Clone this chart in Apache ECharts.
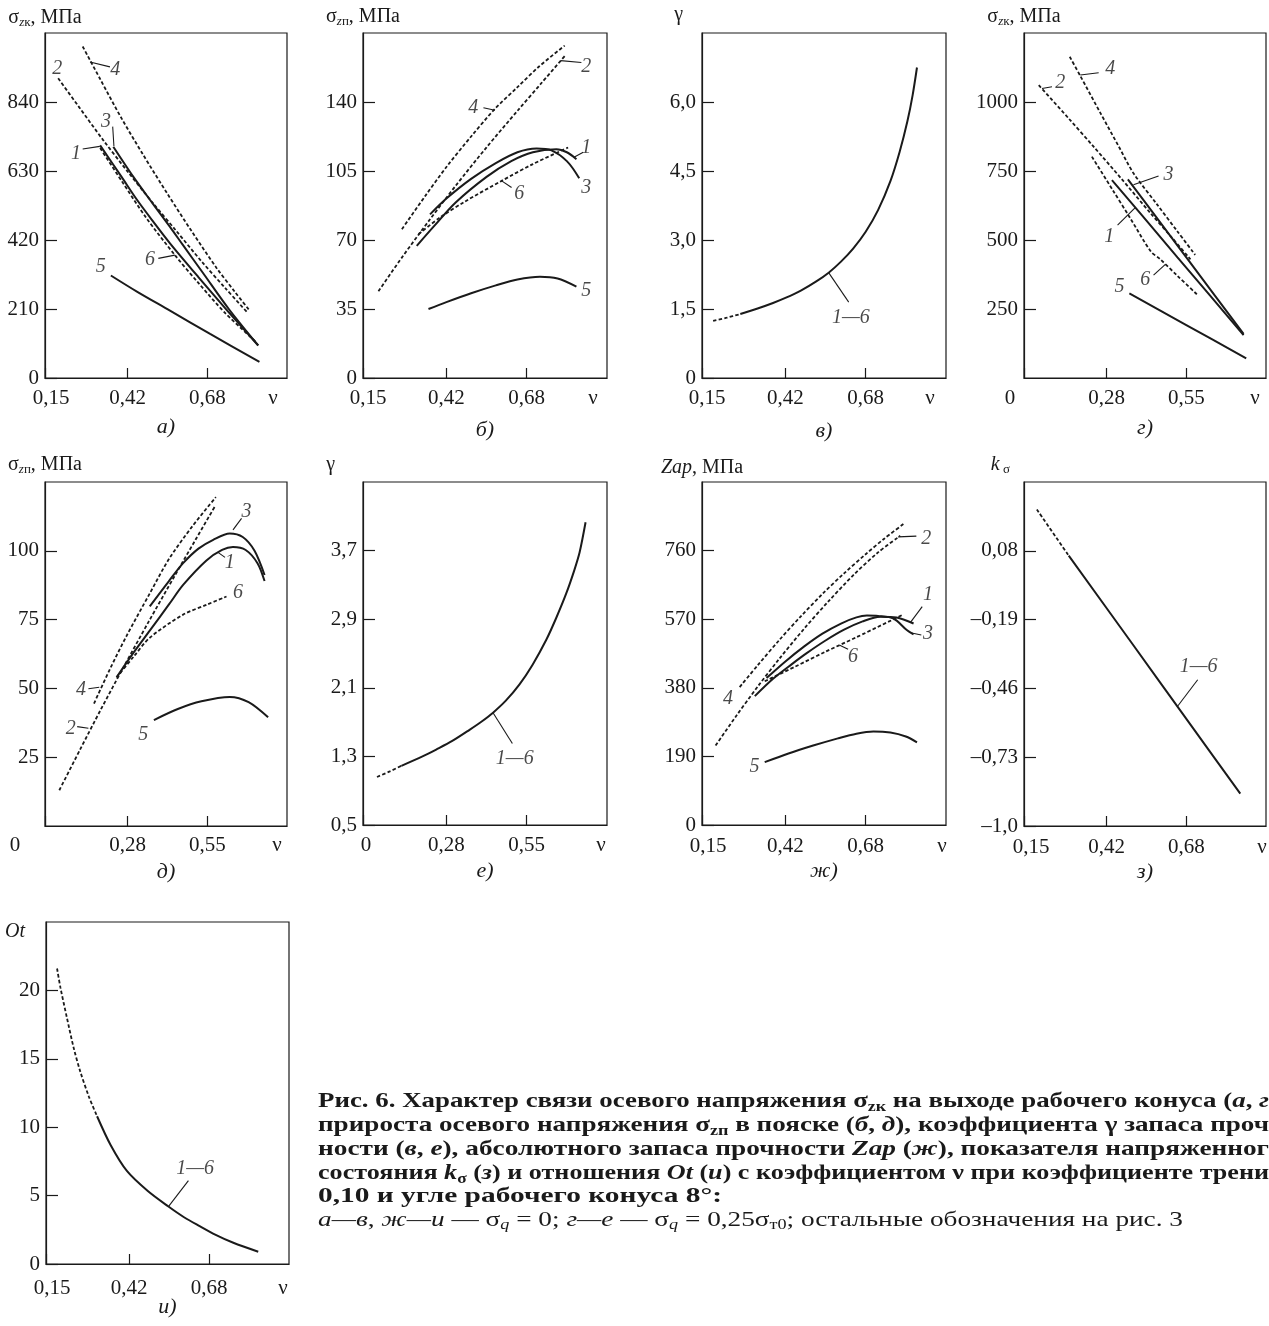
<!DOCTYPE html>
<html><head><meta charset="utf-8">
<script src="https://cdn.jsdelivr.net/npm/echarts@6/dist/echarts.min.js"></script>
<style>html,body{margin:0;padding:0;background:#fff}#c{width:1269px;height:1326px}</style>
</head><body><div id="c"></div>
<script>
// ================= DATA =================
// x tick values / labels
const xTicksA = [0.15, 0.42, 0.68];
const xLabelsA = ['0,15', '0,42', '0,68'];
const xTicksB = [0, 0.28, 0.55];
const xLabelsB = ['0', '0,28', '0,55'];

// а) sigma_zk, sigma_q = 0
const a_yTicks = [0, 210, 420, 630, 840];
const a_yLabels = ['0', '210', '420', '630', '840'];
const a_c1 = [[0.33,708],[0.40,612],[0.449,544],[0.50,480],[0.558,410],[0.65,308],[0.75,200],[0.846,99]];
const a_c2 = [[0.193,912],[0.26,826],[0.34,724],[0.42,628],[0.50,535],[0.58,446],[0.66,356],[0.74,272],[0.812,198]];
const a_c3 = [[0.373,704],[0.438,613],[0.50,533],[0.558,460],[0.60,405],[0.667,318],[0.75,210],[0.846,99]];
const a_c4 = [[0.273,1009],[0.33,910],[0.40,790],[0.47,680],[0.55,560],[0.63,445],[0.71,335],[0.77,262],[0.818,205]];
const a_c5 = [[0.365,312],[0.45,263],[0.558,205],[0.689,134],[0.85,49]];
const a_c6 = [[0.33,700],[0.40,600],[0.48,488],[0.574,374],[0.65,290],[0.74,196],[0.836,112]];
const a_labels = [['4',0.379,937],['2',0.19,942],['3',0.349,780],['1',0.251,684],['6',0.493,359],['5',0.332,339]];
const a_leaders = [[[0.297,962],[0.362,947]],[[0.371,765],[0.375,706]],[[0.273,697],[0.329,705]],[[0.52,364],[0.574,374]]];

// б) sigma_zp, sigma_q = 0
const b_yTicks = [0, 35, 70, 105, 140];
const b_yLabels = ['0', '35', '70', '105', '140'];
const b_c1 = [[0.324,67],[0.38,77],[0.45,89],[0.55,102],[0.63,110],[0.70,114.5],[0.776,116],[0.81,114.5],[0.841,111]];
const b_c2 = [[0.2,44],[0.28,62],[0.367,80.5],[0.45,97.5],[0.55,117],[0.65,135.5],[0.73,150],[0.807,164]];
const b_c3 = [[0.367,83],[0.42,91],[0.5,101],[0.58,109],[0.65,114.5],[0.712,116.4],[0.76,115.5],[0.81,110],[0.85,101.3]];
const b_c4 = [[0.276,75.5],[0.35,92],[0.42,107],[0.5,122.5],[0.577,136.5],[0.65,147.5],[0.72,158],[0.803,168.6]];
const b_c5 = [[0.362,35],[0.42,38.5],[0.5,43],[0.58,47],[0.65,50],[0.723,51.4],[0.78,50.5],[0.841,46.4]];
const b_c6 = [[0.33,73],[0.40,81.5],[0.48,89.5],[0.599,100],[0.70,108.5],[0.814,116.9]];
const b_labels = [['4',0.507,137],['2',0.873,158],['1',0.873,117],['3',0.873,96.6],['6',0.656,93.6],['5',0.873,44.4]];
const b_leaders = [[[0.54,137.1],[0.577,135.8]],[[0.79,161],[0.857,160]],[[0.833,112],[0.863,114.5]],[[0.599,100],[0.631,96.6]]];

// в) gamma, sigma_q = 0
const c_yTicks = [0, 1.5, 3.0, 4.5, 6.0];
const c_yLabels = ['0', '1,5', '3,0', '4,5', '6,0'];
const c_dash = [[0.186,1.24],[0.23,1.31],[0.274,1.39]];
const c_solid = [[0.274,1.39],[0.33,1.51],[0.38,1.63],[0.42,1.74],[0.47,1.90],[0.52,2.10],[0.56,2.29],[0.60,2.53],[0.64,2.82],[0.68,3.18],[0.72,3.65],[0.76,4.28],[0.79,4.92],[0.815,5.58],[0.832,6.15],[0.846,6.75]];
const c_labels = [['1—6',0.632,1.31]];
const c_leaders = [[[0.56,2.29],[0.625,1.65]]];

// г) sigma_zk, sigma_q = 0.25
const d_yTicks = [250, 500, 750, 1000];
const d_yLabels = ['250', '500', '750', '1000'];
const d_c1 = [[0.298,717],[0.40,589],[0.52,437],[0.63,299],[0.744,155]];
const d_c2 = [[0.05,1061],[0.15,942],[0.236,838],[0.33,722],[0.428,598],[0.50,510],[0.564,430]];
const d_c3 = [[0.352,720],[0.45,580],[0.55,437],[0.65,294],[0.744,160]];
const d_c4 = [[0.155,1164],[0.191,1094],[0.26,958],[0.32,841],[0.371,742],[0.45,630],[0.52,531],[0.58,446]];
const d_c5 = [[0.357,307],[0.55,192],[0.753,71]];
const d_c6 = [[0.23,802],[0.30,682],[0.36,579],[0.43,458],[0.46,432],[0.52,370],[0.588,301]];
const d_labels = [['4',0.2925,1122],['2',0.123,1068],['3',0.49,735],['1',0.289,512],['6',0.411,355],['5',0.324,331]];
const d_leaders = [[[0.191,1098],[0.253,1106]],[[0.061,1049],[0.095,1055]],[[0.371,700],[0.456,732]],[[0.377,617],[0.317,554]],[[0.479,412],[0.439,373]]];

// д) sigma_zp, sigma_q = 0.25
const e_yTicks = [25, 50, 75, 100];
const e_yLabels = ['25', '50', '75', '100'];
const e_c1 = [[0.2425,54],[0.30,63],[0.355,71],[0.42,80.5],[0.468,87.6],[0.547,96.5],[0.60,100.3],[0.637,101.4],[0.68,100.3],[0.72,95.5],[0.744,89]];
const e_c2 = [[0.0485,13],[0.12,28],[0.19,42.5],[0.265,57.5],[0.35,74],[0.44,91],[0.51,104],[0.575,116]];
const e_c3 = [[0.355,79.8],[0.42,89],[0.468,95.5],[0.52,100.8],[0.57,104],[0.626,106.3],[0.67,105],[0.71,100],[0.744,91.2]];
const e_c4 = [[0.166,44.5],[0.22,57],[0.276,69],[0.355,84.5],[0.42,97],[0.5,109],[0.579,119.5]];
const e_c5 = [[0.369,38.5],[0.45,42.5],[0.53,45.3],[0.626,46.9],[0.69,45],[0.756,39.5]];
const e_c6 = [[0.2425,54],[0.30,61.5],[0.355,68.4],[0.468,76.8],[0.55,80.5],[0.615,83.4]];
const e_labels = [['3',0.683,114.2],['1',0.626,95.5],['6',0.654,84.6],['4',0.122,49.4],['2',0.087,35.5],['5',0.333,33.1]];
const e_leaders = [[[0.637,107.6],[0.666,111.8]],[[0.585,99.5],[0.61,97.6]],[[0.147,49.9],[0.184,50.4]],[[0.109,36.1],[0.147,35.5]]];

// е) gamma, sigma_q = 0.25
const f_yTicks = [0.5, 1.3, 2.1, 2.9, 3.7];
const f_yLabels = ['0,5', '1,3', '2,1', '2,9', '3,7'];
const f_dash = [[0.047,1.06],[0.09,1.125],[0.129,1.19]];
const f_solid = [[0.129,1.19],[0.2,1.30],[0.246,1.38],[0.3,1.48],[0.358,1.61],[0.4,1.71],[0.437,1.81],[0.48,1.95],[0.526,2.14],[0.57,2.37],[0.616,2.66],[0.65,2.92],[0.683,3.2],[0.71,3.47],[0.728,3.68],[0.748,4.03]];
const f_labels = [['1—6',0.51,1.27]];
const f_leaders = [[[0.437,1.81],[0.502,1.45]]];

// ж) Zap, sigma_q = 0
const g_yTicks = [0, 190, 380, 570, 760];
const g_yLabels = ['0', '190', '380', '570', '760'];
const g_c1 = [[0.321,357],[0.38,405],[0.44,445],[0.489,476],[0.55,511],[0.61,541],[0.67,564],[0.727,577],[0.78,575],[0.835,558]];
const g_c2 = [[0.194,220],[0.26,301],[0.33,383],[0.40,460],[0.48,543],[0.56,620],[0.64,692],[0.72,755],[0.792,801]];
const g_c3 = [[0.359,407],[0.42,453],[0.48,494],[0.54,530],[0.60,558],[0.65,575],[0.684,580],[0.72,579],[0.77,572],[0.813,540],[0.835,528]];
const g_c4 = [[0.272,382],[0.33,442],[0.40,512],[0.47,578],[0.54,640],[0.61,697],[0.68,750],[0.74,793],[0.806,836]];
const g_c5 = [[0.353,174],[0.43,198],[0.51,220],[0.59,240],[0.65,253],[0.705,259],[0.76,256],[0.81,245],[0.846,229]];
const g_c6 = [[0.353,398],[0.45,438],[0.55,480],[0.65,520],[0.797,581]];
const g_labels = [['2',0.876,794],['1',0.882,637],['3',0.882,531],['6',0.639,466],['4',0.234,351],['5',0.32,161.5]];
const g_leaders = [[[0.785,798],[0.844,800]],[[0.825,561],[0.863,605]],[[0.829,532],[0.86,526]],[[0.596,498],[0.623,487]]];

// з) k_sigma
const h_yTicks = [-1.0, -0.73, -0.46, -0.19, 0.08];
const h_yLabels = ['–1,0', '–0,73', '–0,46', '–0,19', '0,08'];
const h_dash = [[0.192,0.242],[0.296,0.061]];
const h_solid = [[0.296,0.061],[0.50,-0.279],[0.70,-0.613],[0.856,-0.873]];
const h_labels = [['1—6',0.72,-0.374]];
const h_leaders = [[[0.652,-0.529],[0.717,-0.426]]];

// и) Ot
const i_yTicks = [0, 5, 10, 15, 20];
const i_yLabels = ['0', '5', '10', '15', '20'];
const i_dash = [[0.186,21.6],[0.197,20.2],[0.218,18.0],[0.24,15.8],[0.261,14.1],[0.29,12.2],[0.316,10.8]];
const i_solid = [[0.316,10.8],[0.36,8.7],[0.413,6.8],[0.48,5.35],[0.548,4.2],[0.6,3.4],[0.651,2.75],[0.7,2.15],[0.759,1.55],[0.84,0.9]];
const i_labels = [['1—6',0.635,6.93]];
const i_leaders = [[[0.548,4.2],[0.613,6.09]]];

// ================= LAYOUT / STYLE =================
const SERIF = '"Liberation Serif","Times New Roman","DejaVu Serif",serif';
const INK = '#1a1a1a';
const FS = 21;

const NAME_RICH = {
  s: {fontFamily: SERIF, fontSize: 20, lineHeight: 22, color: INK},
  i: {fontFamily: SERIF, fontSize: 20, lineHeight: 22, fontStyle: 'italic', color: INK},
  sb: {fontFamily: SERIF, fontSize: 13, lineHeight: 13, verticalAlign: 'bottom', color: INK},
  si: {fontFamily: SERIF, fontSize: 13, lineHeight: 13, verticalAlign: 'bottom', fontStyle: 'italic', color: INK}
};
const N_SZK = '{s|σ}{si|z}{sb|к}{s|, МПа}';
const N_SZP = '{s|σ}{si|z}{sb|п}{s|, МПа}';
const N_G = '{s|γ}';

const PANELS = [
  {g:[45,33,242,345], xr:[0.15,0.94], yr:[0,1050], xT:xTicksA, xL:xLabelsA, yT:a_yTicks, yL:a_yLabels,
   name:N_SZK, nAlign:'center', nPad:0, nGap:15, nu:-14, xm:10, shift:6, letter:'а)', lg:49,
   curves:[[a_c1,0],[a_c2,1],[a_c3,0],[a_c4,1],[a_c5,0],[a_c6,1]], labels:a_labels, leaders:a_leaders},
  {g:[363,33,244,345], xr:[0.15,0.94], yr:[0,175], xT:xTicksA, xL:xLabelsA, yT:b_yTicks, yL:b_yLabels,
   name:N_SZP, nAlign:'center', nPad:0, nGap:16, nu:-14, xm:10, shift:5, letter:'б)', lg:52,
   curves:[[b_c1,0],[b_c2,1],[b_c3,0],[b_c4,1],[b_c5,0],[b_c6,1]], labels:b_labels, leaders:b_leaders},
  {g:[702,33,244,345], xr:[0.15,0.94], yr:[0,7.5], xT:xTicksA, xL:xLabelsA, yT:c_yTicks, yL:c_yLabels,
   name:N_G, nAlign:'right', nPad:19, nGap:18, nu:-16, xm:10, shift:5, letter:'в)', lg:53,
   curves:[[c_dash,1],[c_solid,0]], labels:c_labels, leaders:c_leaders},
  {g:[1024,33,242,345], xr:[0,0.82], yr:[0,1250], xT:xTicksB, xL:xLabelsB, yT:d_yTicks, yL:d_yLabels,
   name:N_SZK, nAlign:'center', nPad:0, nGap:16, nu:-11, xm:10, shift:-14, letter:'г)', lg:50,
   curves:[[d_c1,0],[d_c2,1],[d_c3,0],[d_c4,1],[d_c5,0],[d_c6,1]], labels:d_labels, leaders:d_leaders},
  {g:[45,482,242,344], xr:[0,0.82], yr:[0,125], xT:xTicksB, xL:xLabelsB, yT:e_yTicks, yL:e_yLabels,
   name:N_SZP, nAlign:'center', nPad:0, nGap:17, nu:-10, xm:9, shift:-30, letter:'д)', lg:46,
   curves:[[e_c1,0],[e_c2,1],[e_c3,0],[e_c4,1],[e_c5,0],[e_c6,1]], labels:e_labels, leaders:e_leaders},
  {g:[363,482,244,343], xr:[0,0.82], yr:[0.5,4.5], xT:xTicksB, xL:xLabelsB, yT:f_yTicks, yL:f_yLabels,
   name:N_G, nAlign:'right', nPad:28, nGap:17, nu:-6, xm:10, shift:3, letter:'е)', lg:46,
   curves:[[f_dash,1],[f_solid,0]], labels:f_labels, leaders:f_leaders},
  {g:[702,482,244,343], xr:[0.15,0.94], yr:[0,950], xT:xTicksA, xL:xLabelsA, yT:g_yTicks, yL:g_yLabels,
   name:'{i|Zap}{s|, МПа}', nAlign:'center', nPad:0, nGap:14, nu:-4, xm:11, shift:6, letter:'ж)', lg:46,
   curves:[[g_c1,0],[g_c2,1],[g_c3,0],[g_c4,1],[g_c5,0],[g_c6,1]], labels:g_labels, leaders:g_leaders},
  {g:[1024,482,242,344], xr:[0.15,0.94], yr:[-1.0,0.35], xT:xTicksA, xL:xLabelsA, yT:h_yTicks, yL:h_yLabels,
   name:'{i|k}{sb| σ}', nAlign:'right', nPad:14, nGap:17, nu:-4, xm:11, shift:7, letter:'з)', lg:46,
   curves:[[h_dash,1],[h_solid,0]], labels:h_labels, leaders:h_leaders},
  {g:[46,922,243,342], xr:[0.15,0.94], yr:[0,25], xT:xTicksA, xL:xLabelsA, yT:i_yTicks, yL:i_yLabels,
   name:'{i|Ot}', nAlign:'right', nPad:21, nGap:-10, nu:-6, xm:14, shift:6, letter:'и)', lg:43,
   curves:[[i_dash,1],[i_solid,0]], labels:i_labels, leaders:i_leaders}
];

function nearestIdx(arr, v) {
  let bi = 0, bd = Infinity;
  arr.forEach((t, k) => { const d = Math.abs(t - v); if (d < bd) { bd = d; bi = k; } });
  return bi;
}

const option = {animation: false, backgroundColor: '#ffffff', grid: [], xAxis: [], yAxis: [], series: [], graphic: []};

PANELS.forEach((p, i) => {
  const [L, T, W, H] = p.g;
  option.grid.push({left: L, top: T, width: W, height: H, show: true, borderColor: INK, borderWidth: 1.2, backgroundColor: 'transparent'});
  const padFirst = p.shift > 0 ? [0, 0, 0, 2 * p.shift] : [0, -2 * p.shift, 0, 0];
  option.xAxis.push({
    gridIndex: i, type: 'value', min: p.xr[0], max: p.xr[1],
    axisLine: {show: true, onZero: false, lineStyle: {color: INK, width: 1.2}},
    axisTick: {show: true, inside: true, length: 10, customValues: p.xT, lineStyle: {color: INK, width: 1.2}},
    splitLine: {show: false},
    axisLabel: {
      show: true, customValues: p.xT, margin: p.xm, color: INK, fontFamily: SERIF, fontSize: FS,
      formatter: (v) => { const k = nearestIdx(p.xT, v); return k === 0 ? '{f|' + p.xL[k] + '}' : p.xL[k]; },
      rich: {f: {padding: padFirst, fontFamily: SERIF, fontSize: FS, color: INK}}
    },
    name: 'ν', nameLocation: 'end', nameGap: p.nu,
    nameTextStyle: {fontFamily: SERIF, fontSize: FS, color: INK, align: 'center', verticalAlign: 'top', padding: [p.xm, 0, 0, 0]}
  });
  option.yAxis.push({
    gridIndex: i, type: 'value', min: p.yr[0], max: p.yr[1],
    axisLine: {show: true, onZero: false, lineStyle: {color: INK, width: 1.2}},
    axisTick: {show: true, inside: true, length: 12, customValues: p.yT, lineStyle: {color: INK, width: 1.2}},
    splitLine: {show: false},
    axisLabel: {
      show: true, customValues: p.yT, margin: 6, color: INK, fontFamily: SERIF, fontSize: FS,
      formatter: (v) => p.yL[nearestIdx(p.yT, v)]
    },
    name: p.name, nameLocation: 'end', nameGap: p.nGap,
    nameTextStyle: {align: p.nAlign, verticalAlign: 'middle', padding: [0, p.nPad, 0, 0], rich: NAME_RICH, fontFamily: SERIF, fontSize: 20, color: INK}
  });
  p.curves.forEach(([data, dashed]) => {
    option.series.push({
      type: 'line', xAxisIndex: i, yAxisIndex: i, data: data, symbol: 'none', showSymbol: false,
      smooth: 0.3, silent: true, z: 3,
      lineStyle: {color: INK, width: dashed ? 1.8 : 2.0, type: dashed ? [3.5, 2.2] : 'solid', cap: 'butt'}
    });
  });
  p.leaders.forEach((ld) => {
    option.series.push({
      type: 'line', xAxisIndex: i, yAxisIndex: i, data: ld, symbol: 'none', silent: true, z: 4,
      lineStyle: {color: INK, width: 1.1}
    });
  });
  option.series.push({
    type: 'scatter', xAxisIndex: i, yAxisIndex: i, silent: true, z: 5,
    symbolSize: 1, itemStyle: {color: 'rgba(0,0,0,0)'},
    data: p.labels.map((l) => ({name: l[0], value: [l[1], l[2]]})),
    label: {show: true, position: 'inside', formatter: '{b}', fontFamily: SERIF, fontStyle: 'italic', fontSize: 20, color: INK}
  });
  option.graphic.push({
    type: 'text', x: L + W / 2, y: T + H + p.lg, silent: true,
    style: {text: p.letter, font: 'italic 22px ' + SERIF, fill: INK, textAlign: 'center', textVerticalAlign: 'middle', align: 'center', verticalAlign: 'middle'}
  });
});

// ================= CAPTION =================
const CAP_FS = 21, CAP_SUB = 14, CAP_LH = 24;
const CAP_STYLES = {
  b: {w: 'bold', it: false, sub: false}, bi: {w: 'bold', it: true, sub: false}, bsub: {w: 'bold', it: false, sub: true},
  r: {w: 'normal', it: false, sub: false}, ri: {w: 'normal', it: true, sub: false},
  rsub: {w: 'normal', it: false, sub: true}, risub: {w: 'normal', it: true, sub: true}
};
const CAP_RICH = {};
Object.keys(CAP_STYLES).forEach((k) => {
  const s = CAP_STYLES[k];
  CAP_RICH[k] = {fontFamily: SERIF, fontWeight: s.w, fontStyle: s.it ? 'italic' : 'normal', fontSize: s.sub ? CAP_SUB : CAP_FS,
    lineHeight: s.sub ? CAP_SUB : CAP_LH, verticalAlign: s.sub ? 'bottom' : 'middle', fill: INK, color: INK};
});
const capLines = [
  {y: 1102, target: 951, vis: 'г', segs: [['Рис. 6. Характер связи осевого напряжения σ','b'],['zк','bsub'],[' на выходе рабочего конуса (','b'],['а','bi'],[', ','b'],['г','bi'],['),','b']]},
  {y: 1126, target: 951, vis: 'проч', segs: [['прироста осевого напряжения σ','b'],['zп','bsub'],[' в пояске (','b'],['б','bi'],[', ','b'],['д','bi'],['), коэффициента γ запаса проч-','b']]},
  {y: 1150, target: 951, vis: 'напряженног', segs: [['ности (','b'],['в','bi'],[', ','b'],['е','bi'],['), абсолютного запаса прочности ','b'],['Zap','bi'],[' (','b'],['ж','bi'],['), показателя напряженного','b']]},
  {y: 1174, target: 951, vis: 'трени', segs: [['состояния ','b'],['k','bi'],['σ','bsub'],[' (','b'],['з','bi'],[') и отношения ','b'],['Ot','bi'],[' (','b'],['и','bi'],[') с коэффициентом ν при коэффициенте трения','b']]},
  {y: 1197, target: 404, vis: null, segs: [['0,10 и угле рабочего конуса 8°:','b']]},
  {y: 1220, target: 865, vis: null, segs: [['а—в','ri'],[', ','r'],['ж—и','ri'],[' — σ','r'],['q','risub'],[' = 0; ','r'],['г—е','ri'],[' — σ','r'],['q','risub'],[' = 0,25σ','r'],['т0','rsub'],['; остальные обозначения на рис. 3','r']]}
];
const mctx = document.createElement('canvas').getContext('2d');
function segFont(k) {
  const s = CAP_STYLES[k];
  return (s.it ? 'italic ' : '') + (s.w === 'bold' ? 'bold ' : '') + (s.sub ? CAP_SUB : CAP_FS) + 'px ' + SERIF;
}
function measurePrefix(segs, nChars) {
  let w = 0, used = 0;
  for (const [t, k] of segs) {
    if (used >= nChars) break;
    const part = t.slice(0, Math.max(0, nChars - used));
    mctx.font = segFont(k);
    w += mctx.measureText(part).width;
    used += t.length;
  }
  return w;
}
capLines.forEach((ln) => {
  const full = ln.segs.map((s) => s[0]).join('');
  const n = ln.vis ? full.lastIndexOf(ln.vis) + ln.vis.length : full.length;
  const w = measurePrefix(ln.segs, n);
  const sx = w > 0 ? ln.target / w : 1;
  option.graphic.push({
    type: 'text', x: 318, y: ln.y, scaleX: sx, scaleY: 1, originX: 0, originY: 0, silent: true,
    style: {text: ln.segs.map(([t, k]) => '{' + k + '|' + t + '}').join(''), rich: CAP_RICH,
      fill: INK, textAlign: 'left', textVerticalAlign: 'middle', align: 'left', verticalAlign: 'middle'}
  });
});

const chart = echarts.init(document.getElementById('c'), null, {renderer: 'canvas'});
chart.setOption(option);
</script></body></html>
